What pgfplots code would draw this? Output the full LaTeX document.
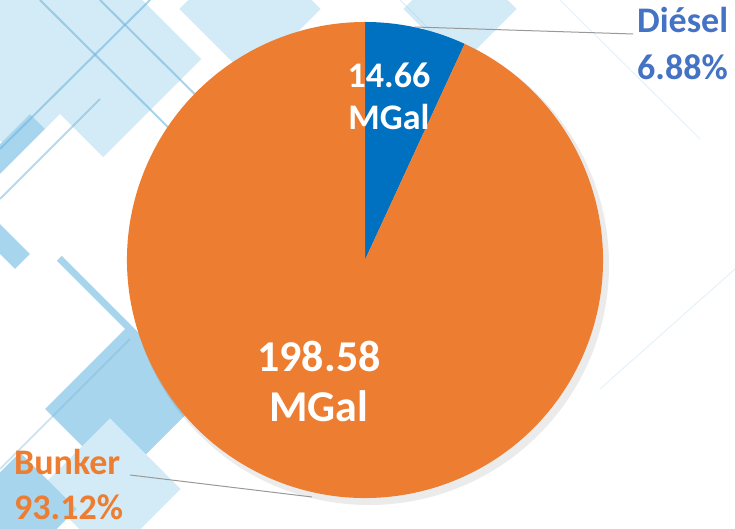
\documentclass[border=0pt]{standalone}
\usepackage{pgfplots}
\usepackage{pgfplotstable}
\pgfplotsset{compat=1.18}
\usepackage{fontspec}
\setmainfont{Carlito}
\definecolor{bunker}{HTML}{ED7D31}
\definecolor{diesel}{HTML}{0070C0}
\definecolor{dlabel}{HTML}{4472C4}
\definecolor{bgA}{HTML}{A7D5EE}
\definecolor{bgB}{HTML}{D3EBF7}
\definecolor{bgL}{HTML}{6FB6DE}
\pgfplotstableread{
fuel value
Diesel 14.66
Bunker 198.58
}\fueltable
\begin{document}
\begin{tikzpicture}
\pgfplotstablegetelem{0}{value}\of\fueltable \let\vd\pgfplotsretval
\pgfplotstablegetelem{1}{value}\of\fueltable \let\vb\pgfplotsretval
\pgfmathsetmacro{\angd}{360*\vd/(\vd+\vb)}
\pgfmathsetmacro{\angend}{90-\angd}
\begin{axis}[
  at={(0,0)}, anchor=south west,
  width=735pt, height=529pt, scale only axis,
  xmin=0, xmax=735, ymin=0, ymax=529,
  hide axis, clip=true,
]
% decorative background
\begin{scope}
\fill[bgB, rotate around={45:(axis cs:60,470)}] (axis cs:-40,370) rectangle (axis cs:160,570);
\fill[bgA, rotate around={45:(axis cs:30,330)}] (axis cs:-30,270) rectangle (axis cs:90,390);
\fill[white, rotate around={45:(axis cs:60,330)}] (axis cs:0,270) rectangle (axis cs:120,390);
\fill[bgA, rotate around={45:(axis cs:90,160)}] (axis cs:30,60) rectangle (axis cs:150,260);
\fill[white, rotate around={45:(axis cs:40,200)}] (axis cs:-20,140) rectangle (axis cs:100,260);
\fill[bgB, rotate around={45:(axis cs:110,40)}] (axis cs:60,-10) rectangle (axis cs:160,90);
\fill[bgA, rotate around={45:(axis cs:20,20)}] (axis cs:-20,-20) rectangle (axis cs:60,60);
\fill[bgB, rotate around={45:(axis cs:250,520)}] (axis cs:200,470) rectangle (axis cs:300,570);
\fill[bgB, rotate around={45:(axis cs:460,520)}] (axis cs:420,480) rectangle (axis cs:500,560);
\draw[bgL, line width=2pt, opacity=0.6] (axis cs:40,529) -- (axis cs:200,370);
\draw[bgL, line width=2pt, opacity=0.6] (axis cs:100,529) -- (axis cs:260,370);
\draw[bgL, line width=2pt, opacity=0.6] (axis cs:0,380) -- (axis cs:150,529);
\draw[bgL, line width=2pt, opacity=0.5] (axis cs:0,330) -- (axis cs:100,430);
\draw[bgL, line width=1.5pt, opacity=0.4] (axis cs:0,60) -- (axis cs:130,190);
\draw[bgL!60, line width=1pt, opacity=0.4] (axis cs:400,529) -- (axis cs:540,390);
\draw[bgL!60, line width=1pt, opacity=0.3] (axis cs:560,529) -- (axis cs:700,390);
\draw[bgL!60, line width=1pt, opacity=0.3] (axis cs:600,140) -- (axis cs:735,260);
\end{scope}
% shadow
\fill[black, opacity=0.08] (axis cs:369,264) circle[radius=240pt];
% slices
\fill[diesel] (axis cs:365,269) -- ++(90:238pt) arc[start angle=90, end angle=\angend, radius=238pt] -- cycle;
\fill[bunker] (axis cs:365,269) -- ++(\angend:238pt) arc[start angle=\angend, end angle=-270, radius=238pt] -- cycle;
% leader lines
\draw[gray!80, line width=1pt] (axis cs:415,502) -- (axis cs:633,495);
\draw[gray!80, line width=1pt] (axis cs:130,54) -- (axis cs:312,32);
% in-slice labels
\begin{scope}[every node/.style={white, font=\bfseries\fontsize{36}{40}\selectfont, anchor=base, inner sep=0pt}]
\node at (axis cs:389,441) {14.66};
\node at (axis cs:389,399) {MGal};
\end{scope}
\begin{scope}[every node/.style={white, font=\bfseries\fontsize{44}{50}\selectfont, anchor=base, inner sep=0pt}]
\node at (axis cs:319,157) {198.58};
\node at (axis cs:319,107) {MGal};
\end{scope}
% outer labels
\begin{scope}[every node/.style={font=\bfseries\fontsize{36}{40}\selectfont, anchor=base west, inner sep=0pt}]
\node[dlabel] at (axis cs:637,496) {Diésel};
\node[dlabel] at (axis cs:637,449) {6.88\%};
\node[bunker] at (axis cs:14,54) {Bunker};
\node[bunker] at (axis cs:14,9) {93.12\%};
\end{scope}
\end{axis}
\end{tikzpicture}
\end{document}
